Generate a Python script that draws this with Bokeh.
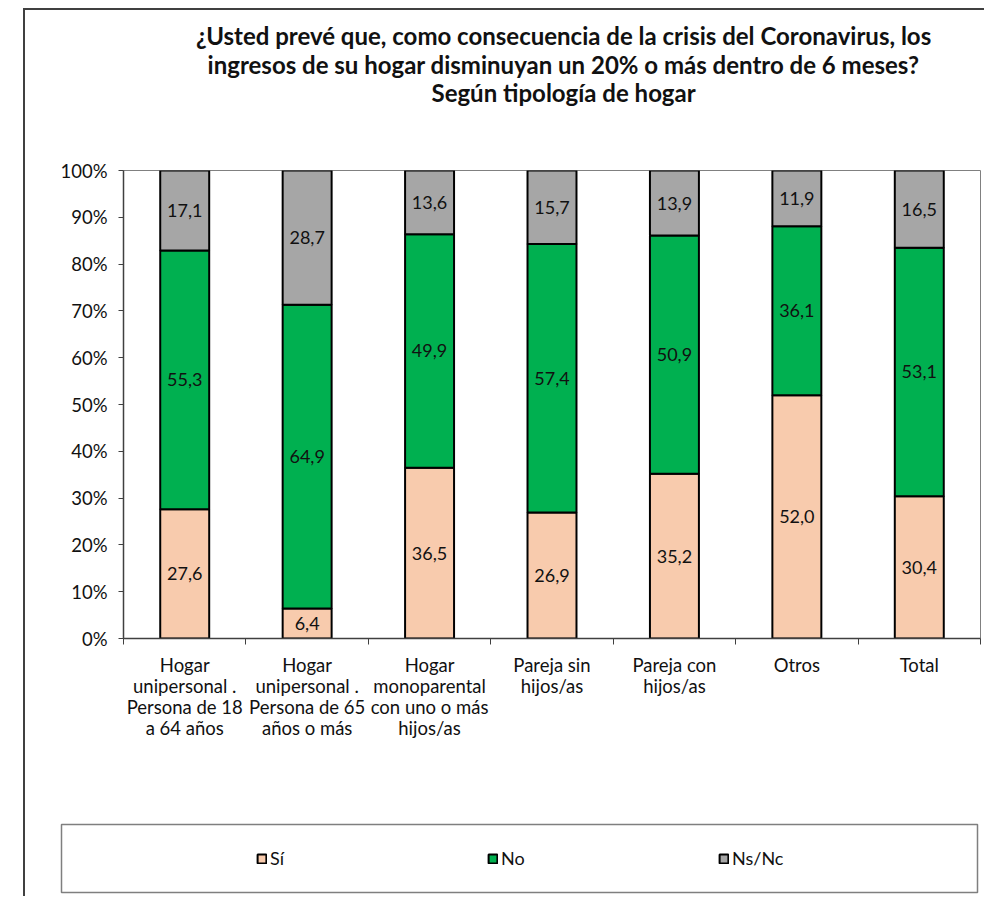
import numpy as np
from bokeh.plotting import figure
from bokeh.models import (ColumnDataSource, Range1d, FixedTicker, PrintfTickFormatter,
                          Legend, LegendItem)
from bokeh.layouts import column, row
from bokeh.embed import file_html
from bokeh.resources import INLINE
from bokeh.core.properties import value

# ---------------- data ----------------
categories = [
    "Hogar\nunipersonal .\nPersona de 18\na 64 años",
    "Hogar\nunipersonal .\nPersona de 65\naños o más",
    "Hogar\nmonoparental\ncon uno o más\nhijos/as",
    "Pareja sin\nhijos/as",
    "Pareja con\nhijos/as",
    "Otros",
    "Total",
]
si = [27.6, 6.4, 36.5, 26.9, 35.2, 52.0, 30.4]
no = [55.3, 64.9, 49.9, 57.4, 50.9, 36.1, 53.1]
nsnc = [17.1, 28.7, 13.6, 15.7, 13.9, 11.9, 16.5]
series_names = ["Sí", "No", "Ns/Nc"]
series_colors = ["#F8CBAD", "#00B050", "#A6A6A6"]
y_ticks = [0, 10, 20, 30, 40, 50, 60, 70, 80, 90, 100]
title_lines = [
    "¿Usted prevé que, como consecuencia de la crisis del Coronavirus, los",
    "ingresos de su hogar disminuyan un 20% o más dentro de 6 meses?",
    "Según tipología de hogar",
]

FONT = "Lato"
TXT = "#111111"
W = 959
n = len(categories)
centers = [i + 0.5 for i in range(n)]
bounds = [float(i) for i in range(n + 1)]

# ---------------- title figure ----------------
p0 = figure(width=W, height=110, x_range=Range1d(0, 1), y_range=Range1d(0, 1),
            x_axis_type=None, y_axis_type=None, output_backend="svg", toolbar_location=None,
            min_border_left=98, min_border_right=4, min_border_top=0, min_border_bottom=0)
p0.grid.visible = False
p0.outline_line_color = None
title_y = [0.773, 0.509, 0.255]
p0.text(x=[0.5135] * len(title_lines), y=title_y, text=title_lines,
        text_align="center", text_baseline="middle", text_font=value(FONT),
        text_font_style="bold", text_font_size="24px", text_color=TXT)

# ---------------- chart figure ----------------
src = ColumnDataSource(dict(x=centers, si=si, no=no, ns=nsnc))
p = figure(width=W, height=680, x_range=Range1d(0, n), y_range=Range1d(0, 100),
           output_backend="svg", toolbar_location=None,
           min_border_left=98, min_border_right=4, min_border_top=50, min_border_bottom=162)
p.xgrid.grid_line_color = None
p.ygrid.grid_line_color = None
p.outline_line_color = "#808080"
p.outline_line_width = 1

bars = p.vbar_stack(["si", "no", "ns"], x="x", width=0.4, source=src,
                    fill_color=series_colors, line_color="black", line_width=2)

lx, ly, lt = [], [], []
base = np.zeros(n)
for vals in (si, no, nsnc):
    v = np.array(vals)
    mids = base + v / 2
    for i in range(n):
        lx.append(centers[i])
        ly.append(float(mids[i]))
        lt.append(f"{vals[i]:.1f}".replace(".", ","))
    base = base + v
p.text(x="x", y="y", text="t", source=ColumnDataSource(dict(x=lx, y=ly, t=lt)),
       text_align="center", text_baseline="middle", text_font=value(FONT),
       text_font_size="18px", text_color=TXT)

xa = p.xaxis[0]
xa.ticker = FixedTicker(ticks=centers, minor_ticks=bounds)
xa.major_label_overrides = {c: lab for c, lab in zip(centers, categories)}
xa.major_tick_out = 0
xa.major_tick_in = 0
xa.minor_tick_out = 6
xa.minor_tick_in = 0
xa.minor_tick_line_color = "#404040"
xa.axis_line_color = "#404040"
xa.axis_line_width = 1.5
xa.major_label_standoff = 9
xa.major_label_text_font = FONT
xa.major_label_text_font_size = "18.5px"
xa.major_label_text_color = TXT
xa.major_label_text_line_height = 0.96
xa.major_label_orientation = "horizontal"

ya = p.yaxis[0]
ya.ticker = FixedTicker(ticks=y_ticks)
ya.formatter = PrintfTickFormatter(format="%d%%")
ya.major_tick_out = 5
ya.major_tick_in = 0
ya.minor_tick_out = 0
ya.minor_tick_in = 0
ya.major_tick_line_color = "#404040"
ya.axis_line_color = "#404040"
ya.axis_line_width = 1.5
ya.major_label_standoff = 11
ya.major_label_text_font = FONT
ya.major_label_text_font_size = "18.5px"
ya.major_label_text_color = TXT

# ---------------- legend figure ----------------
p2 = figure(width=W, height=96, x_range=Range1d(0, 1), y_range=Range1d(0, 1),
            x_axis_type=None, y_axis_type=None, output_backend="svg", toolbar_location=None,
            min_border_left=36, min_border_right=7, min_border_top=24, min_border_bottom=4)
p2.grid.visible = False
p2.outline_line_color = "#7f7f7f"
p2.outline_line_width = 1.5
items = []
for name, col in zip(series_names, series_colors):
    # legend proxy: one entry with no height, so nothing is drawn in the box itself
    r = p2.vbar(x=np.array([0.5]), top=np.array([np.nan]), width=0.1,
                fill_color=col, line_color="black", line_width=2)
    items.append(LegendItem(label=name, renderers=[r]))
leg = Legend(items=items, orientation="horizontal", location=(195, 23), padding=0, margin=0,
             border_line_alpha=0, background_fill_alpha=0, glyph_width=11, glyph_height=11,
             label_standoff=3, label_width=217, label_height=20, spacing=0,
             label_text_font=FONT, label_text_font_size="18px", label_text_color=TXT)
p2.add_layout(leg)

layout = column(p0, p, row(p2),
                styles={"border-left": "2px solid #404040", "border-top": "2px solid #404040",
                        "margin-left": "23px", "margin-top": "8px"})
open("out.html", "w").write(file_html(layout, INLINE))
